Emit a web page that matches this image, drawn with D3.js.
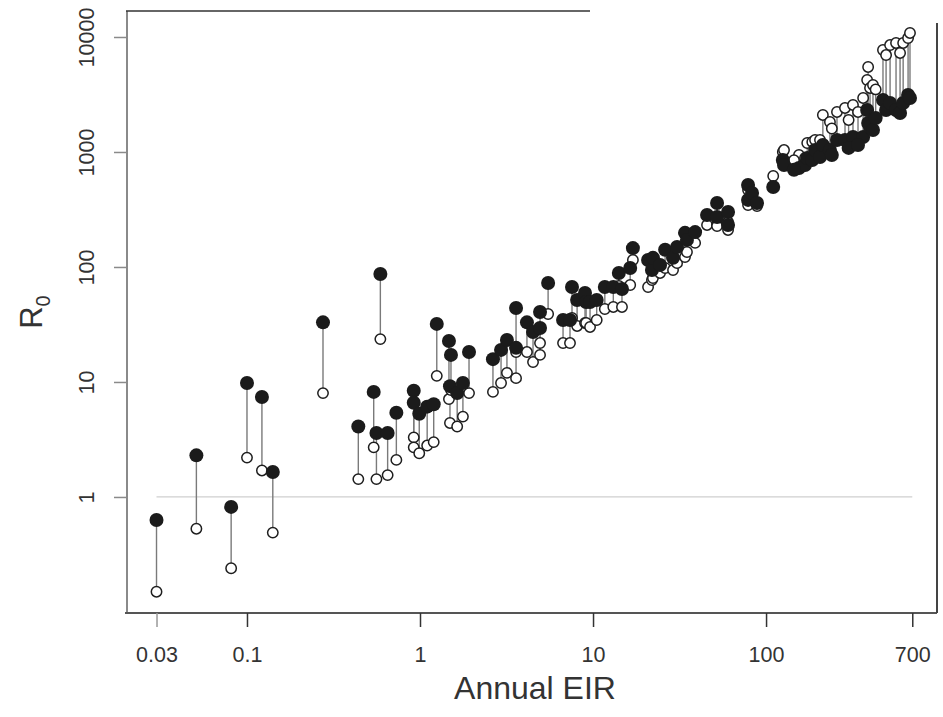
<!DOCTYPE html>
<html>
<head>
<meta charset="utf-8">
<script src="https://cdn.jsdelivr.net/npm/d3@7"></script>
<style>
  body { margin: 0; background: #fff; }
  svg { font-family: "Liberation Sans", Arial, Helvetica, sans-serif; }
</style>
</head>
<body>
<svg width="943" height="717" class="chart"></svg>
<script>
  // annual EIR for each site, with R0 from the two estimates (filled / open)
  const eir = [0.03, 0.051, 0.081, 0.1, 0.122, 0.141, 0.275, 0.44, 0.54, 0.56,
    0.59, 0.65, 0.73, 0.92, 0.92, 0.99, 1.1, 1.2, 1.25, 1.47,
    1.49, 1.51, 1.64, 1.77, 1.92, 2.64, 2.94, 3.18, 3.59, 3.59,
    4.15, 4.5, 4.94, 4.94, 5.5, 6.71, 7.36, 7.56, 8.09, 8.99,
    9.12, 9.61, 10.5, 11.7, 13.1, 14.1, 14.7, 16.4, 17, 20.8,
    21.9, 22.2, 24.4, 26.1, 29, 30.6, 34, 34.9, 38.9, 45.6,
    52.1, 52.1, 60.3, 60.3, 78.7, 78.7, 83, 88.7, 110, 125,
    127, 155, 168, 173, 185, 192, 205, 213, 234, 257,
    286, 318, 364, 384, 389, 399, 415, 474, 494, 521,
    564, 595, 620, 662, 679, 145, 240, 300, 340, 430];
  const r0Filled = [0.63, 2.3, 0.82, 9.8, 7.4, 1.65, 33, 4.1, 8.2, 3.6,
    87, 3.6, 5.4, 8.4, 6.6, 5.3, 6.1, 6.4, 32, 22.7,
    9.2, 17.2, 8, 9.8, 18.2, 15.8, 19, 23.2, 19.8, 44,
    33, 27.2, 29.5, 40.6, 72.6, 34.6, 34.6, 67, 51.6, 59.4,
    49.6, 49.6, 51.6, 67, 67, 88.7, 64.4, 98, 146, 115,
    94, 120, 104, 141, 120, 149, 198, 172, 201, 283,
    360, 272, 301, 232, 516, 383, 440, 360, 496, 851,
    771, 726, 771, 887, 851, 1040, 905, 1151, 1040, 1271,
    1271, 1350, 1350, 2318, 1786, 1649, 1554, 2833, 2318, 2667,
    2318, 2183, 2667, 3131, 2950, 700, 942, 1085, 1151, 1970];
  const r0Open = [0.15, 0.53, 0.24, 2.2, 1.7, 0.49, 8, 1.43, 2.7, 1.43,
    23.6, 1.55, 2.1, 3.3, 2.7, 2.4, 2.8, 3, 11.3, 7.1,
    4.4, 8.5, 4.1, 5, 8, 8.2, 9.8, 12, 10.8, 18.2,
    18.2, 14.9, 17.2, 21.8, 39, 21.8, 21.8, 36, 30.7, 32.6,
    32.6, 30.1, 34.6, 43.1, 44.9, 68.4, 44.9, 69.7, 115, 67,
    77, 80, 88.7, 98, 94, 108, 122, 135, 162, 232,
    232, 227, 246, 210, 467, 346, 414, 339, 618, 1000,
    1040, 942, 887, 1197, 1222, 1271, 1271, 2099, 1823, 2228,
    2414, 2564, 2950, 4227, 5486, 3605, 3826, 7709, 6967, 8511,
    8872, 7261, 8872, 9795, 10840, 850, 1600, 1900, 2228, 3500];

  const xTicks = [0.03, 0.1, 1, 10, 100, 700];
  const yTicks = [1, 10, 100, 1000, 10000];

  const svg = d3.select("svg.chart");
  const pLeft = 125, pRight = 937, pTop = 11, pBottom = 613;

  const x = d3.scaleLog()
    .domain([Math.pow(10, -1.705), Math.pow(10, 2.988)])
    .range([pLeft, pRight]);
  const y = d3.scaleLog()
    .domain([Math.pow(10, -1.009), Math.pow(10, 4.226)])
    .range([pBottom, pTop]);

  const pairs = eir.map((e, i) => ({ eir: e, a: r0Filled[i], b: r0Open[i] }));

  // reference line at R0 = 1
  svg.append("line")
    .attr("x1", x(xTicks[0])).attr("x2", x(xTicks[xTicks.length - 1]))
    .attr("y1", y(1)).attr("y2", y(1))
    .attr("stroke", "#cfcfcf").attr("stroke-width", 1.3);

  // frame (partial, like the scanned original)
  svg.append("line").attr("x1", pLeft + 2).attr("x2", pLeft + 2).attr("y1", pTop).attr("y2", pBottom)
    .attr("stroke", "#8a8a8a").attr("stroke-width", 2);
  svg.append("line").attr("x1", pLeft).attr("x2", pRight).attr("y1", pBottom).attr("y2", pBottom)
    .attr("stroke", "#555").attr("stroke-width", 2);
  svg.append("line").attr("x1", pLeft + 1).attr("x2", 590).attr("y1", pTop).attr("y2", pTop)
    .attr("stroke", "#333").attr("stroke-width", 1.5);
  svg.append("line").attr("x1", pRight).attr("x2", pRight).attr("y1", 23).attr("y2", pBottom)
    .attr("stroke", "#444").attr("stroke-width", 2);

  // axes
  const xAxis = svg.append("g")
    .attr("transform", "translate(0," + pBottom + ")")
    .call(d3.axisBottom(x).tickValues(xTicks).tickFormat(d3.format("~g")).tickSize(14).tickSizeOuter(0));
  xAxis.select(".domain").remove();
  xAxis.selectAll(".tick line")
    .attr("stroke", (d, i) => i === 0 ? "#999" : "#333")
    .attr("stroke-width", 1.5);
  xAxis.selectAll(".tick text")
    .attr("y", 34).attr("dy", "0.71em")
    .style("font-size", "21.5px").attr("fill", "#333");

  const yAxis = svg.append("g")
    .attr("transform", "translate(" + (pLeft + 2) + ",0)")
    .call(d3.axisLeft(y).tickValues(yTicks).tickFormat(d3.format("d")).tickSize(13).tickSizeOuter(0));
  yAxis.select(".domain").remove();
  yAxis.selectAll(".tick line").attr("stroke", "#8a8a8a").attr("stroke-width", 1.5);
  yAxis.selectAll(".tick text")
    .attr("x", 0).attr("dy", 0)
    .attr("text-anchor", "middle")
    .attr("transform", "translate(-33,0) rotate(-90)")
    .style("font-size", "21.5px").attr("fill", "#333");

  // connecting segments, then open points, then filled points
  svg.append("g").selectAll("line")
    .data(pairs).enter().append("line")
    .attr("x1", d => x(d.eir)).attr("x2", d => x(d.eir))
    .attr("y1", d => y(d.a)).attr("y2", d => y(d.b))
    .attr("stroke", "#7a7a7a").attr("stroke-width", 1.4);

  svg.append("g").selectAll("circle")
    .data(pairs).enter().append("circle")
    .attr("cx", d => x(d.eir)).attr("cy", d => y(d.b))
    .attr("r", 5.2)
    .attr("fill", "#fff").attr("stroke", "#1e1e1e").attr("stroke-width", 1.5);

  svg.append("g").selectAll("circle")
    .data(pairs).enter().append("circle")
    .attr("cx", d => x(d.eir)).attr("cy", d => y(d.a))
    .attr("r", 7)
    .attr("fill", "#1b1b1b");

  // axis titles
  svg.append("text")
    .attr("x", 535).attr("y", 699)
    .attr("text-anchor", "middle")
    .style("font-size", "32px").attr("fill", "#333")
    .text("Annual EIR");

  const yt = svg.append("text")
    .attr("transform", "translate(42,312) rotate(-90)")
    .attr("text-anchor", "middle")
    .style("font-size", "31px").attr("fill", "#333");
  yt.append("tspan").text("R");
  yt.append("tspan").attr("dy", 8).style("font-size", "20px").text("0");
</script>
</body>
</html>
